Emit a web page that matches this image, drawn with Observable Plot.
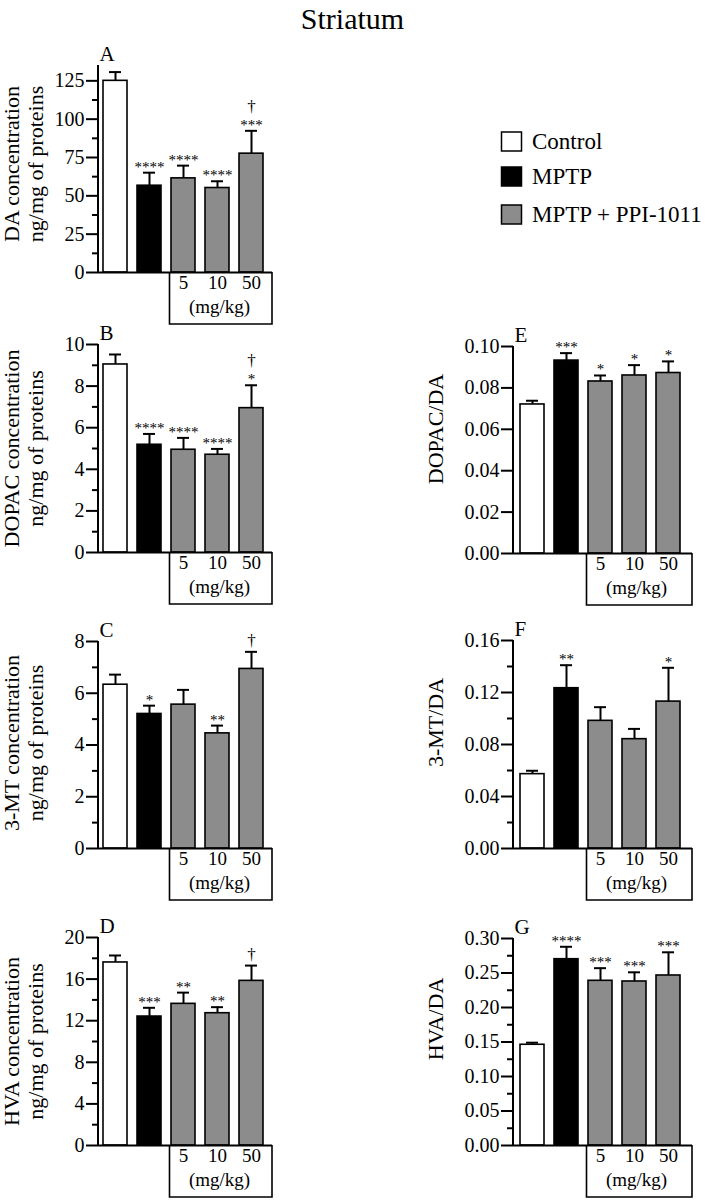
<!DOCTYPE html>
<html>
<head>
<meta charset="utf-8">
<script src="https://cdn.jsdelivr.net/npm/d3@7"></script>
<script src="https://cdn.jsdelivr.net/npm/@observablehq/plot@0.6"></script>
<style>
  body { margin: 0; background: #fff; }
  #page { position: relative; width: 705px; height: 1200px; overflow: hidden; background: #fff;
          font-family: 'Liberation Serif', 'Times New Roman', serif; color: #000; }
  .panel { position: absolute; }
  #title { position: absolute; left: 0; top: 2px; width: 705px; text-align: center;
           font-size: 30px; line-height: 34px; }
  #legend { position: absolute; left: 495px; top: 120px; }
</style>
</head>
<body>
<div id="page"><div id="title">Striatum</div></div>
<script>
// ---------- data ----------
const groups = ["Control", "MPTP", "5", "10", "50"];
const fills = ["#ffffff", "#000000", "#8c8c8c", "#8c8c8c", "#8c8c8c"];
const doseLabels = ["5", "10", "50"];
const unitLabel = "(mg/kg)";
const legendLabels = ["Control", "MPTP", "MPTP + PPI-1011"];
const legendFills = ["#ffffff", "#000000", "#8c8c8c"];

// A: DA
const daMean = [125.0, 56.6, 61.4, 55.1, 77.5];
const daSem = [5.7, 8.5, 8.3, 4.4, 14.9];
const daStars = ["", "****", "****", "****", "***"];
const daDagger = ["", "", "", "", "†"];
const daTicks = [0, 25, 50, 75, 100, 125];
const daMinor = [12.5, 37.5, 62.5, 87.5, 112.5];

// B: DOPAC
const dopacMean = [9.04, 5.18, 4.94, 4.70, 6.94];
const dopacSem = [0.48, 0.52, 0.57, 0.28, 1.10];
const dopacStars = ["", "****", "****", "****", "*"];
const dopacDagger = ["", "", "", "", "†"];
const dopacTicks = [0, 2, 4, 6, 8, 10];
const dopacMinor = [1, 3, 5, 7, 9];

// C: 3-MT
const mtMean = [6.33, 5.20, 5.56, 4.45, 6.94];
const mtSem = [0.39, 0.32, 0.57, 0.30, 0.66];
const mtStars = ["", "*", "", "**", ""];
const mtDagger = ["", "", "", "", "†"];
const mtTicks = [0, 2, 4, 6, 8];
const mtMinor = [1, 3, 5, 7];

// D: HVA
const hvaMean = [17.6, 12.4, 13.62, 12.72, 15.83];
const hvaSem = [0.67, 0.84, 1.08, 0.58, 1.47];
const hvaStars = ["", "***", "**", "**", ""];
const hvaDagger = ["", "", "", "", "†"];
const hvaTicks = [0, 4, 8, 12, 16, 20];
const hvaMinor = [2, 6, 10, 14, 18];

// E: DOPAC/DA
const dopacDaMean = [0.0720, 0.0932, 0.0831, 0.0860, 0.0872];
const dopacDaSem = [0.0018, 0.0036, 0.0029, 0.0050, 0.0056];
const dopacDaStars = ["", "***", "*", "*", "*"];
const dopacDaDagger = ["", "", "", "", ""];
const dopacDaTicks = [0, 0.02, 0.04, 0.06, 0.08, 0.10];
const dopacDaMinor = [];

// F: 3-MT/DA
const mtDaMean = [0.0572, 0.1233, 0.0982, 0.0841, 0.1130];
const mtDaSem = [0.0026, 0.0177, 0.0105, 0.0079, 0.0260];
const mtDaStars = ["", "**", "", "", "*"];
const mtDaDagger = ["", "", "", "", ""];
const mtDaTicks = [0, 0.04, 0.08, 0.12, 0.16];
const mtDaMinor = [0.02, 0.06, 0.10, 0.14];

// G: HVA/DA
const hvaDaMean = [0.146, 0.270, 0.2387, 0.2377, 0.2464];
const hvaDaSem = [0.003, 0.018, 0.0183, 0.0133, 0.0336];
const hvaDaStars = ["", "****", "***", "***", "***"];
const hvaDaDagger = ["", "", "", "", ""];
const hvaDaTicks = [0, 0.05, 0.10, 0.15, 0.20, 0.25, 0.30];
const hvaDaMinor = [0.025, 0.075, 0.125, 0.175, 0.225, 0.275];

// ---------- layout ----------
const columns = [
  {left: 0, width: 284, marginLeft: 98, marginRight: 12, pi: 0.30, po: 0.165, align: 0.35, labelDx: -75},
  {left: 400, width: 302, marginLeft: 113, marginRight: 10, pi: 0.28, po: 0.215, align: 0.40, labelDx: -78}
];
const fmtInt = d3.format("d");
const fmt2 = d3.format(".2f");

const panels = [
  {id: "A", col: 0, frameTop: 65, frameBottom: 272, max: 135, mean: daMean, sem: daSem, stars: daStars, dagger: daDagger,
   ticks: daTicks, minor: daMinor, fmt: fmtInt, label: "DA concentration\nng/mg of proteins", labelDy: -5},
  {id: "B", col: 0, frameTop: 344, frameBottom: 552, max: 10, mean: dopacMean, sem: dopacSem, stars: dopacStars, dagger: dopacDagger,
   ticks: dopacTicks, minor: dopacMinor, fmt: fmtInt, label: "DOPAC concentration\nng/mg of proteins", labelDy: 0},
  {id: "C", col: 0, frameTop: 641, frameBottom: 848, max: 8, mean: mtMean, sem: mtSem, stars: mtStars, dagger: mtDagger,
   ticks: mtTicks, minor: mtMinor, fmt: fmtInt, label: "3-MT concentration\nng/mg of proteins", labelDy: -2},
  {id: "D", col: 0, frameTop: 937, frameBottom: 1145, max: 20, mean: hvaMean, sem: hvaSem, stars: hvaStars, dagger: hvaDagger,
   ticks: hvaTicks, minor: hvaMinor, fmt: fmtInt, label: "HVA concentration\nng/mg of proteins", labelDy: 0},
  {id: "E", col: 1, frameTop: 346, frameBottom: 553, max: 0.10, mean: dopacDaMean, sem: dopacDaSem, stars: dopacDaStars, dagger: dopacDaDagger,
   ticks: dopacDaTicks, minor: dopacDaMinor, fmt: fmt2, label: "DOPAC/DA", labelDy: -21},
  {id: "F", col: 1, frameTop: 640, frameBottom: 848, max: 0.16, mean: mtDaMean, sem: mtDaSem, stars: mtDaStars, dagger: mtDaDagger,
   ticks: mtDaTicks, minor: mtDaMinor, fmt: fmt2, label: "3-MT/DA", labelDy: -22},
  {id: "G", col: 1, frameTop: 938, frameBottom: 1145, max: 0.30, mean: hvaDaMean, sem: hvaDaSem, stars: hvaDaStars, dagger: hvaDaDagger,
   ticks: hvaDaTicks, minor: hvaDaMinor, fmt: fmt2, label: "HVA/DA", labelDy: -23}
];

const page = document.getElementById("page");
const serif = "'Liberation Serif', 'Times New Roman', serif";
const ink = "#000";

function makePanel(cfg) {
  const col = columns[cfg.col];
  const data = groups.map((g, i) => ({
    group: g, mean: cfg.mean[i], hi: cfg.mean[i] + cfg.sem[i], fill: fills[i],
    stars: cfg.stars[i], dagger: cfg.dagger[i]
  }));
  const marginTop = 30, marginBottom = 55;
  const height = marginTop + (cfg.frameBottom - cfg.frameTop) + marginBottom;
  const marks = [
    Plot.barY(data, {x: "group", y: "mean", fill: "fill", stroke: ink, strokeWidth: 1.6}),
    Plot.ruleX(data, {x: "group", y1: "mean", y2: "hi", stroke: ink, strokeWidth: 2}),
    Plot.tickY(data, {x: "group", y: "hi", stroke: ink, strokeWidth: 2, insetLeft: 6, insetRight: 6}),
    Plot.text(data.filter(d => d.stars), {x: "group", y: "hi", text: "stars", lineAnchor: "bottom", dy: -1, fontSize: 15, fill: ink}),
    Plot.text(data.filter(d => d.dagger && d.stars), {x: "group", y: "hi", text: "dagger", lineAnchor: "bottom", dy: -19, fontSize: 17, fill: ink}),
    Plot.text(data.filter(d => d.dagger && !d.stars), {x: "group", y: "hi", text: "dagger", lineAnchor: "bottom", dy: -6, fontSize: 17, fill: ink}),
    Plot.axisY(cfg.ticks, {tickSize: 12, tickPadding: 2, tickFormat: cfg.fmt, fontSize: 20, strokeWidth: 2, label: null, fill: ink, stroke: ink}),
    Plot.ruleY([0], {stroke: ink, strokeWidth: 2}),
    (index, scales, values, dims) => {
      const g = d3.create("svg:g").attr("fill", "none").attr("stroke", ink);
      const x0 = dims.marginLeft, x1 = dims.width - dims.marginRight;
      const y0 = scales.y(0), yTop = scales.y(cfg.max);
      g.append("line").attr("x1", x0).attr("x2", x0).attr("y1", y0 + 1).attr("y2", yTop).attr("stroke-width", 2);
      const bx = scales.x(doseLabels[0]) - 1.5;
      g.append("path").attr("d", `M${bx},${y0}V${y0 + 52}H${x1}V${y0}`).attr("stroke-width", 1.6);
      return g.node();
    },
    Plot.text(doseLabels, {x: d => d, frameAnchor: "bottom", dy: 16, fontSize: 19, fill: ink}),
    Plot.text([unitLabel], {x: () => doseLabels[1], frameAnchor: "bottom", dy: 40, dx: 2, fontSize: 19, fill: ink}),
    Plot.text([cfg.id], {frameAnchor: "top-left", textAnchor: "start", lineAnchor: "bottom", dx: 1, dy: -5, fontSize: 21, fill: ink}),
    Plot.text([cfg.label], {frameAnchor: "left", textAnchor: "middle", rotate: -90, dx: col.labelDx, dy: cfg.labelDy, fontSize: 22, lineHeight: 1.09, fill: ink})
  ];
  if (cfg.minor.length) {
    marks.push(Plot.axisY(cfg.minor, {tickSize: 6, tickFormat: () => "", strokeWidth: 2, label: null, stroke: ink}));
  }
  const svg = Plot.plot({
    width: col.width,
    height,
    marginLeft: col.marginLeft,
    marginRight: col.marginRight,
    marginTop,
    marginBottom,
    style: {fontFamily: serif, fontSize: "20px", background: "transparent", overflow: "visible", color: ink},
    x: {type: "band", domain: groups, paddingInner: col.pi, paddingOuter: col.po, align: col.align, axis: null},
    y: {domain: [0, cfg.max], nice: false},
    color: {type: "identity"},
    marks
  });
  const div = document.createElement("div");
  div.className = "panel";
  div.style.left = col.left + "px";
  div.style.top = (cfg.frameTop - marginTop) + "px";
  div.appendChild(svg);
  page.appendChild(div);
}

panels.forEach(makePanel);

// ---------- legend ----------
const leg = d3.select(page).append("svg").attr("id", "legend").attr("width", 210).attr("height", 115)
  .style("font-family", serif);
const legRows = legendLabels.map((t, i) => ({t, f: legendFills[i], i}));
const rowY = [12, 47, 85];
leg.selectAll("rect").data(legRows).join("rect")
  .attr("x", 6.5).attr("y", d => rowY[d.i]).attr("width", 20).attr("height", 19)
  .attr("fill", d => d.f).attr("stroke", ink).attr("stroke-width", 1.5);
leg.selectAll("text").data(legRows).join("text")
  .attr("x", 37).attr("y", d => rowY[d.i] + 17).attr("font-size", 23).attr("fill", ink).text(d => d.t);
</script>
</body>
</html>
